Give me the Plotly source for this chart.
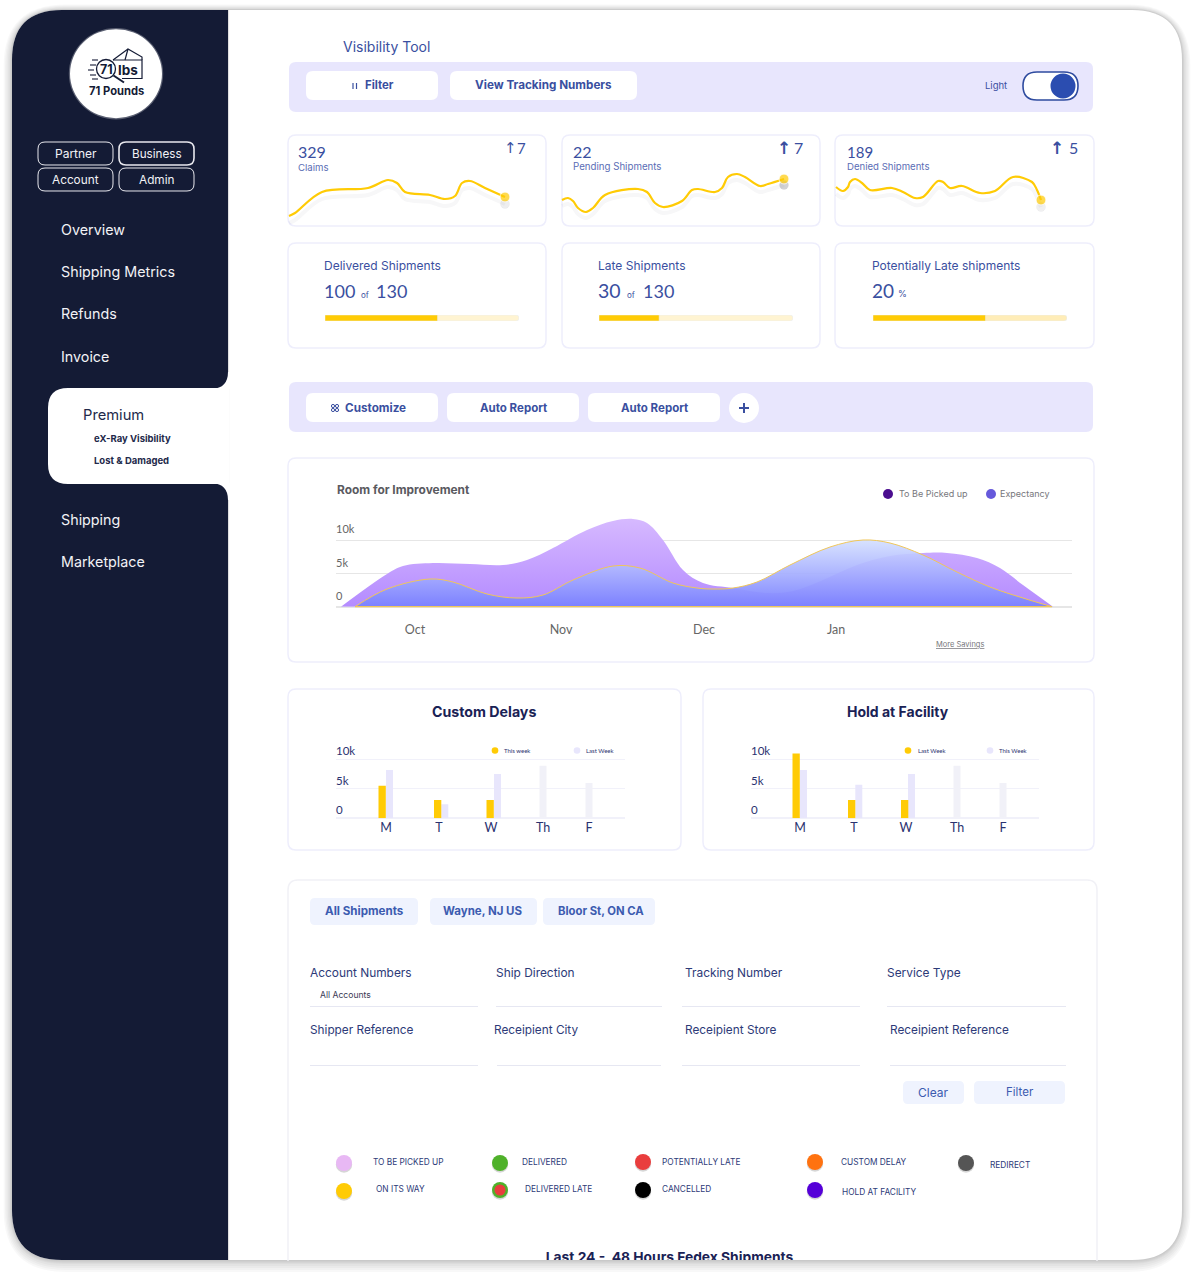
import plotly.graph_objects as go

# ---------- data ----------
MONTHS = ["Oct", "Nov", "Dec", "Jan"]
MONTH_POS = [79, 225, 368, 500]
AREA_TICKS = [0, 5, 10]
AREA_TICK_TEXT = ["0", "5k", "10k"]
PICKUP_X = [5, 51, 67, 97, 134, 167, 191, 217, 251, 277, 297, 311, 327, 347, 367, 397, 431, 457, 487, 521, 554, 587, 611, 641, 664, 687, 717]
PICKUP_Y = [0, 4.9, 6.1, 6.55, 6.4, 6.25, 7.0, 8.8, 11.5, 12.85, 13.15, 12.55, 10, 5.5, 3.55, 2.8, 2.05, 2.35, 4.0, 6.25, 7.6, 8.05, 8.05, 7.3, 5.8, 3.25, 0]
EXPECT_X = [19, 51, 94, 117, 151, 181, 207, 237, 277, 304, 337, 361, 377, 397, 421, 454, 494, 527, 554, 587, 621, 654, 687, 716]
EXPECT_Y = [0, 2.65, 4.15, 3.7, 1.9, 1.3, 1.75, 4.0, 6.1, 5.8, 3.55, 2.8, 2.65, 2.8, 3.7, 6.25, 8.95, 10, 9.55, 7.75, 5.2, 2.95, 1.3, 0]

SPARK1_X = [4, 10, 37, 83, 103, 112, 120, 145, 160, 170, 177, 185, 200, 220]
SPARK1_Y = [14, 17, 38, 42, 50, 47, 38, 35, 31, 34, 47, 49, 42, 33]
SPARK2_X = [7, 13, 18, 23, 31, 38, 50, 83, 92, 100, 108, 127, 137, 143, 160, 167, 173, 182, 190, 205, 213, 229]
SPARK2_Y = [30, 32, 29, 22, 18, 22, 35, 41, 38, 27, 23, 29, 40, 41, 38, 42, 53, 56, 53, 44, 46, 51]
SPARK3_X = [11, 18, 23, 25, 30, 37, 45, 67, 78, 90, 98, 113, 118, 125, 137, 155, 170, 188, 207, 212, 216]
SPARK3_Y = [43, 39, 43, 48, 51, 47, 40, 42, 38, 32, 33, 49, 48, 42, 44, 37, 39, 53, 48, 40, 30]

PROGRESS = [58, 31, 58]

DAYS = ["M", "T", "W", "Th", "F"]
BAR_TICKS = [0, 5, 10]
BAR_TICK_TEXT = ["0", "5k", "10k"]
DELAY_POS = [50, 103, 155, 207, 253]
DELAY_THIS = [5.5, 3.1, 3.1, None, None]
DELAY_LAST = [8.2, 2.4, 7.5, 8.9, 6.0]
HOLD_POS = [49, 103, 155, 206, 252]
HOLD_LAST = [11.0, 3.1, 3.1, None, None]
HOLD_THIS = [8.2, 5.7, 7.5, 8.9, 6.0]

W, H = 1194, 1274
NAVY = "#141B35"
BLUE = "#3A4FA0"
INK = "#2A3270"
YEL = "#FFCB05"
LAV = "#E8E6FC"
PALE = "#F1F1F8"
CARD = "#EEEEFC"

fx = lambda x: x / W
fy = lambda y: 1 - y / H

shapes, notes = [], []

def seg(p):
    out = []
    for s in p:
        c = s[0]
        v = s[1:]
        pts = []
        for i in range(0, len(v), 2):
            pts.append(f"{fx(v[i]):.5f},{fy(v[i+1]):.5f}")
        out.append(c + " " + " ".join(pts))
    return " ".join(out)

def rpath(x0, y0, x1, y1, r=(6, 6, 6, 6)):
    if not isinstance(r, (tuple, list)):
        r = (r, r, r, r)
    tl, tr, br, bl = r
    p = [("M", x0 + tl, y0), ("L", x1 - tr, y0), ("Q", x1, y0, x1, y0 + tr), ("L", x1, y1 - br),
         ("Q", x1, y1, x1 - br, y1), ("L", x0 + bl, y1), ("Q", x0, y1, x0, y1 - bl), ("L", x0, y0 + tl),
         ("Q", x0, y0, x0 + tl, y0)]
    return seg(p) + " Z"

def box(x0, y0, x1, y1, r=6, fill="white", line=None, lw=1, layer="below"):
    shapes.append(dict(type="path", xref="paper", yref="paper", path=rpath(x0, y0, x1, y1, r),
                       fillcolor=fill, line=dict(color=line or "rgba(0,0,0,0)", width=lw if line else 0), layer=layer))

def raw(p, fill="rgba(0,0,0,0)", line=None, lw=1, layer="below", close=False):
    shapes.append(dict(type="path", xref="paper", yref="paper", path=seg(p) + (" Z" if close else ""),
                       fillcolor=fill, line=dict(color=line or "rgba(0,0,0,0)", width=lw if line else 0), layer=layer))

def circ(cx, cy, r, fill, line=None, lw=1, layer="below", ry=None):
    ry = ry or r
    shapes.append(dict(type="circle", xref="paper", yref="paper", x0=fx(cx - r), x1=fx(cx + r),
                       y0=fy(cy + ry), y1=fy(cy - ry), fillcolor=fill,
                       line=dict(color=line or "rgba(0,0,0,0)", width=lw if line else 0), layer=layer))

def hline(x0, x1, y, color, w=1):
    shapes.append(dict(type="line", xref="paper", yref="paper", x0=fx(x0), x1=fx(x1), y0=fy(y), y1=fy(y),
                       line=dict(color=color, width=w), layer="below"))

def seglin(x0, y0, x1, y1, color, w=1):
    shapes.append(dict(type="line", xref="paper", yref="paper", x0=fx(x0), x1=fx(x1), y0=fy(y0), y1=fy(y1),
                       line=dict(color=color, width=w), layer="below"))

def txt(x, y, s, size=11, color=BLUE, anchor="left", font="Inter"):
    notes.append(dict(x=fx(x), y=fy(y - 0.2), xref="paper", yref="paper", text=s, showarrow=False,
                      xanchor=anchor, yanchor="middle", align=anchor, borderpad=0, borderwidth=0,
                      font=dict(size=size, color=color, family=font)))

# ---------- outer card ----------
for i, g in enumerate([12, 10, 8, 6, 4, 3, 2, 1]):
    box(12 - g * 0.7, 10 - g * 0.45, 1182 + g * 0.7, 1260 + g, 50 + g, fill="rgba(0,0,0,0.028)")
box(12, 10, 1182, 1260, 50, fill="white")
seglin(228.6, 10, 228.6, 1260, "rgba(0,0,0,0.14)", 1)
box(12, 10, 228, 1260, (50, 0, 0, 50), fill=NAVY)
# premium tab
box(48, 388, 229, 484, (20, 0, 0, 20), fill="white")
raw([("M", 230, 372), ("L", 230, 389), ("L", 212, 389), ("Q", 228, 388, 228, 372)], fill="white", close=True)
raw([("M", 230, 500), ("L", 230, 483), ("L", 212, 483), ("Q", 228, 484, 228, 500)], fill="white", close=True)

# logo
circ(116, 73.7, 47.2, "rgba(255,255,255,0.3)", ry=45.7)
circ(116, 73.7, 46, "white", ry=44.5)
raw([("M", 113, 60), ("L", 142, 60), ("L", 142, 78.5), ("L", 122, 78.5)], line=NAVY, lw=1.2)
raw([("M", 113, 60), ("L", 128, 49), ("L", 142, 57), ("L", 142, 60)], line=NAVY, lw=1.2)
raw([("M", 128, 49), ("L", 125, 60)], line=NAVY, lw=1.2)
circ(106, 69, 9.5, "white", NAVY, 1.3)
seglin(113.5, 75.5, 124, 82.5, NAVY, 2)
for yy, xa in zip([60, 65, 70, 75, 79], [92, 90, 88, 90, 92]):
    seglin(xa, yy, xa + 6, yy, NAVY, 1.1)
txt(106, 69.5, "<b>71</b>", 12.5, NAVY, "center")
txt(128, 70.5, "<b>lbs</b>", 13.5, NAVY, "center")
txt(116, 91, "<b>71 Pounds</b>", 11.2, NAVY, "center")

for x0, y0, s, lw, fs in [(38, 142, "Partner", 1.0, 12), (119, 142, "Business", 1.6, 11.7), (38, 168, "Account", 1.0, 11.8), (119, 168, "Admin", 1.0, 11.8)]:
    box(x0, y0, x0 + 75, y0 + 23, 7, fill=NAVY, line="#E8E8EE", lw=lw)
    txt(x0 + 37.5, y0 + 12, s, fs, "#F2F2F6", "center")

for s, y in [("Overview", 230), ("Shipping Metrics", 272), ("Refunds", 314), ("Invoice", 357), ("Shipping", 520), ("Marketplace", 562)]:
    txt(61, y, s, 14.3, "#F2F2F6")
txt(83, 415, "Premium", 14.7, "#23294A")
txt(94, 439, "<b>eX-Ray Visibility</b>", 9.5, "#23294A")
txt(94, 461, "<b>Lost &amp; Damaged</b>", 9.5, "#23294A")

# ---------- top toolbar ----------
txt(343, 47, "Visibility Tool", 14, BLUE)
box(289, 62, 1093, 112, 7, fill="#E8E6FD")
box(306, 71, 438, 100, 7)
box(450, 71, 637, 100, 7)
for xx in (353, 356.5):
    seglin(xx, 83, xx, 89, BLUE, 1.2)
txt(379, 85.5, "<b>Filter</b>", 11.4, BLUE, "center")
txt(543.5, 85.5, "<b>View Tracking Numbers</b>", 11.7, BLUE, "center")
txt(996, 85.5, "Light", 9.5, BLUE, "center")
box(1023, 72, 1078, 100, 14, fill="white", line="#2E4B9F", lw=1.6)
circ(1063, 86, 12.5, "#2B4DB0")

# ---------- KPI cards ----------
for x0, x1 in [(288, 546), (562, 820), (835, 1094)]:
    box(x0, 135, x1, 226, 8, line=CARD, lw=1.5)
    box(x0, 243, x1, 348, 8, line=CARD, lw=1.5)

txt(298, 152, "329", 16, BLUE, font="Lato")
txt(298, 167.5, "Claims", 9.6, "#5A6DB5")
txt(573, 152, "22", 16, BLUE, font="Lato")
txt(573, 167, "Pending Shipments", 9.7, "#5A6DB5")
txt(847, 152, "189", 15, BLUE, font="Lato")
txt(847, 166.5, "Denied Shipments", 9.6, "#5A6DB5")
txt(510, 148, "↑", 15, BLUE, "center", "DejaVu Sans")
txt(521, 148, "7", 15, BLUE, "center", "Lato")
txt(784, 148, "<b>↑</b>", 17, BLUE, "center", "DejaVu Sans")
txt(798, 148, "7", 16, BLUE, "center", "Lato")
txt(1057, 148, "<b>↑</b>", 17, BLUE, "center", "DejaVu Sans")
txt(1073, 148, "5", 16, BLUE, "center", "Lato")

txt(324, 265.5, "Delivered Shipments", 12, BLUE)
txt(324, 291, "100", 18, BLUE, font="Lato")
txt(361, 295, "of", 8, BLUE)
txt(376, 291, "130", 18, BLUE, font="Lato")
txt(598, 265.5, "Late Shipments", 12, BLUE)
txt(598, 291, "30", 19.5, BLUE, font="Lato")
txt(627, 295, "of", 8, BLUE)
txt(643, 291, "130", 18, BLUE, font="Lato")
txt(872, 265.5, "Potentially Late shipments", 12, BLUE)
txt(872, 291, "20", 19, BLUE, font="Lato")
txt(898, 294, "%", 9, BLUE)

# ---------- second toolbar ----------
box(289, 382, 1093, 432, 7, fill="#E8E6FD")
for x0, x1, cx, s, fs in [(306, 438, 375, "Customize", 11.7), (447, 579, 513, "Auto Report", 11.5), (588, 720, 654, "Auto Report", 11.5)]:
    box(x0, 393, x1, 422, 7)
    txt(cx, 408, f"<b>{s}</b>", fs, BLUE, "center")
for cx, cy in [(333, 406), (337, 406), (333, 410), (337, 410)]:
    circ(cx, cy, 1.6, "white", BLUE, 1)
circ(744, 408, 15, "white")
seglin(739, 408, 749, 408, BLUE, 2)
seglin(744, 403, 744, 413, BLUE, 2)

# ---------- area card ----------
box(288, 458, 1094, 662, 8, line=CARD, lw=1.5)
txt(337, 490, "<b>Room for Improvement</b>", 11.9, "#5A5A5F")
circ(888, 494, 5, "#4B0E8F")
txt(899, 494, "To Be Picked up", 9, "#77777C")
circ(991, 494, 5, "#6659DB")
txt(1000, 494, "Expectancy", 9, "#77777C")
txt(960, 645, "<u>More Savings</u>", 7.5, "#77777C", "center")

# ---------- bar cards ----------
box(288, 689, 681, 850, 8, line=CARD, lw=1.5)
box(703, 689, 1094, 850, 8, line=CARD, lw=1.5)
txt(484, 711.5, "<b>Custom Delays</b>", 14.2, "#1A2255", "center")
txt(898, 711.5, "<b>Hold at Facility</b>", 14, "#1A2255", "center")
for cx, col, tx, s in [(495, YEL, 504, "This week"), (577, LAV, 586, "Last Week"), (908, YEL, 918, "Last Week"), (990, LAV, 999, "This Week")]:
    circ(cx, 750.5, 3.3, col)
    txt(tx, 751, s, 6, "#2A3270", font="Lato")

# ---------- lower card ----------
raw([("M", 288, 1261), ("L", 288, 890), ("Q", 288, 880, 298, 880), ("L", 1087, 880), ("Q", 1097, 880, 1097, 890), ("L", 1097, 1261)], line="#F1F1F6", lw=1.5)
for x0, x1, cx, s, fs in [(310, 418, 364, "All Shipments", 11.6), (430, 537, 483, "Wayne, NJ US", 11.5), (543, 655, 601, "Bloor St, ON CA", 11.3)]:
    box(x0, 898, x1, 925, 5, fill="#EFF3FE")
    txt(cx, 911.5, f"<b>{s}</b>", fs, "#3C5BB0", "center")
for x, s in [(310, "Account Numbers"), (496, "Ship Direction"), (685, "Tracking Number"), (887, "Service Type")]:
    txt(x, 972.5, s, 11.9, "#2D3A78")
txt(320, 995, "All Accounts", 8.6, "#3A3A55")
for a, b in [(310, 478), (496, 662), (682, 860), (887, 1066)]:
    hline(a, b, 1006.5, "#E6E7F2")
for x, s in [(310, "Shipper Reference"), (494, "Receipient City"), (685, "Receipient Store"), (890, "Receipient Reference")]:
    txt(x, 1030.5, s, 11.8, "#2D3A78")
for a, b in [(310, 478), (497, 661), (682, 860), (890, 1066)]:
    hline(a, b, 1065.5, "#E6E7F2")
box(903, 1081, 964, 1104, 5, fill="#EFF3FE")
box(974, 1081, 1065, 1104, 5, fill="#EFF3FE")
txt(933.5, 1092.5, "Clear", 12, "#3C5BB0", "center")
txt(1019.5, 1092.5, "Filter", 11.5, "#3C5BB0", "center")

STATUS = [(344, 1163, "#E8B8F4", 373, 1162, "TO BE PICKED UP"), (500, 1163, "#4FB12A", 522, 1162, "DELIVERED"),
          (643, 1162, "#E93D3D", 662, 1162, "POTENTIALLY LATE"), (815, 1162, "#FF7210", 841, 1162, "CUSTOM DELAY"),
          (966, 1163, "#555555", 990, 1165, "REDIRECT"), (344, 1191, "#FFCB05", 376, 1189, "ON ITS WAY"),
          (500, 1190, "#4FB12A", 525, 1189, "DELIVERED LATE"), (643, 1190, "#000000", 662, 1189, "CANCELLED"),
          (815, 1190, "#5500D8", 842, 1192, "HOLD AT FACILITY")]
for cx, cy, col, tx, ty, s in STATUS:
    circ(cx, cy + 1.5, 8.2, "rgba(0,0,0,0.16)")
    circ(cx, cy, 8, col)
    txt(tx, ty, s, 8.3, "#2D3A78")
circ(500, 1190, 5.5, "#E93D3D")

# ---------- traces on axes ----------
fig = go.Figure()
layout_axes = {}
n_ax = 0

def axes(x0, x1, y0, y1, xr, yr, **kw):
    """y0 = bottom px, y1 = top px"""
    global n_ax
    n_ax += 1
    sx = "" if n_ax == 1 else str(n_ax)
    xa = dict(domain=[fx(x0), fx(x1)], range=xr, visible=False, anchor=f"y{sx}", fixedrange=True)
    ya = dict(domain=[fy(y0), fy(y1)], range=yr, visible=False, anchor=f"x{sx}", fixedrange=True)
    xa.update(kw.get("xa", {}))
    ya.update(kw.get("ya", {}))
    layout_axes[f"xaxis{sx}"] = xa
    layout_axes[f"yaxis{sx}"] = ya
    return f"x{sx}", f"y{sx}"

# sparklines
for left, sx, sy, sh, dy in [(285, SPARK1_X, SPARK1_Y, 0.12, 7), (555, SPARK2_X, SPARK2_Y, 0.32, 6), (825, SPARK3_X, SPARK3_Y, 0.1, 7)]:
    xa, ya = axes(left, left + 280, 230 + dy, 130 + dy, [0, 280], [0, 100])
    shadow_ms = [0] * (len(sx) - 1) + [9]
    fig.add_trace(go.Scatter(x=sx, y=sy, xaxis=xa, yaxis=ya, mode="lines+markers", cliponaxis=False,
                             line=dict(color="rgba(40,40,70,0.035)", width=4, shape="spline", smoothing=1.0),
                             marker=dict(size=shadow_ms, color=f"rgba(60,60,70,{sh})")))
    xa, ya = axes(left, left + 280, 230, 130, [0, 280], [0, 100])
    ms = [0] * (len(sx) - 1) + [10]
    fig.add_trace(go.Scatter(x=sx, y=sy, xaxis=xa, yaxis=ya, mode="lines+markers", cliponaxis=False,
                             line=dict(color=YEL, width=2.2, shape="spline", smoothing=1.0),
                             marker=dict(size=ms, color=YEL)))

# progress bars
for x0, val, track in [(325, PROGRESS[0], "#FFF4D2"), (599, PROGRESS[1], "#FFF4D2"), (873, PROGRESS[2], "#FFEDB8")]:
    xa, ya = axes(x0, x0 + 194, 321, 315, [0, 100], [-0.5, 0.5])
    fig.add_trace(go.Bar(x=[100], y=[0], orientation="h", width=1, xaxis=xa, yaxis=ya, marker=dict(color=track, cornerradius=3)))
    fig.add_trace(go.Bar(x=[val], y=[0], orientation="h", width=1, xaxis=xa, yaxis=ya, marker=dict(color=YEL, cornerradius=3)))

# area chart
xa, ya = axes(336, 1072, 606.7, 515, [0, 736], [0, 13.75],
              xa=dict(visible=True, tickmode="array", tickvals=MONTH_POS, ticktext=MONTHS, showgrid=False, zeroline=False,
                      showline=False, ticks="", ticklabelstandoff=14, tickfont=dict(family="Lato", size=12.5, color="#666")),
              ya=dict(visible=True, tickmode="array", tickvals=AREA_TICKS, ticktext=AREA_TICK_TEXT, showgrid=True,
                      gridcolor="#E6E6E6", gridwidth=1, zeroline=True, zerolinecolor="#E6E6E6", showline=False, ticks="",
                      ticklabelposition="inside top", ticklabelstandoff=-3, ticklabelshift=-3,
                      tickfont=dict(family="Lato", size=11, color="#666")))
fig.add_trace(go.Scatter(x=PICKUP_X, y=PICKUP_Y, xaxis=xa, yaxis=ya, mode="lines", fill="tozeroy",
                         line=dict(width=0, shape="spline", smoothing=1.0, color="rgba(0,0,0,0)"),
                         fillgradient=dict(type="vertical", colorscale=[[0, "#B48BFF"], [1, "#D6B9FF"]])))
fig.add_trace(go.Scatter(x=EXPECT_X, y=EXPECT_Y, xaxis=xa, yaxis=ya, mode="lines", fill="tozeroy",
                         line=dict(width=1, shape="spline", smoothing=1.0, color="#EFC65A"),
                         fillgradient=dict(type="vertical", colorscale=[[0, "rgba(122,128,255,0.97)"], [1, "rgba(210,222,255,0.88)"]])))
shapes.append(dict(type="line", xref="paper", yref="paper", x0=fx(355), x1=fx(1052), y0=fy(606.7), y1=fy(606.7),
                   line=dict(color="#EFC65A", width=1.2), layer="above"))

def bars(x0, x1, pos, front, back, front_off, back_off):
    bar_ax = axes(x0, x1, 818.3, 738, [0, x1 - x0], [0, 13.61],
                  xa=dict(visible=True, tickmode="array", tickvals=pos, ticktext=DAYS, showgrid=False, zeroline=False,
                          showline=False, ticks="", ticklabelstandoff=0, tickfont=dict(family="Lato", size=12.5, color=INK)),
                  ya=dict(visible=True, tickmode="array", tickvals=BAR_TICKS, ticktext=BAR_TICK_TEXT, showgrid=True,
                          gridcolor="#F1F1FA", zeroline=True, zerolinecolor="#F1F1FA", showline=False, ticks="",
                          ticklabelposition="inside top", ticklabelstandoff=-3,
                          tickfont=dict(family="Lato", size=11.5, color=INK)))
    colors = [LAV, LAV, LAV, PALE, PALE]
    fig.add_trace(go.Bar(x=pos, y=back, xaxis=bar_ax[0], yaxis=bar_ax[1], width=7, offset=back_off, marker=dict(color=colors, line=dict(width=0))))
    fig.add_trace(go.Bar(x=pos, y=front, xaxis=bar_ax[0], yaxis=bar_ax[1], width=7.3, offset=front_off, marker=dict(color=YEL, line=dict(width=0))))

bars(336, 625, DELAY_POS, DELAY_THIS, DELAY_LAST, [-7.5, -5, -4.5, 0, 0], [0, 2.3, 3, -3.5, -3.5])
bars(751, 1039, HOLD_POS, HOLD_LAST, HOLD_THIS, [-7.5, -6, -5, 0, 0], [0, 1.3, 2, -3.5, -3.5])

# clipped heading at the bottom edge
xa, ya = axes(288, 1097, 1260, 1240, [288, 1097], [1260, 1240])
fig.add_trace(go.Scatter(x=[669.5], y=[1251.5], xaxis=xa, yaxis=ya, mode="text", text=["<b>Last 24 -  48 Hours Fedex Shipments</b>"],
                         textposition="bottom center", cliponaxis=True, textfont=dict(family="Inter", size=13.8, color="#1A2255")))

fig.update_layout(width=W, height=H, margin=dict(l=0, r=0, t=0, b=0), paper_bgcolor="white", plot_bgcolor="rgba(0,0,0,0)",
                  showlegend=False, barmode="overlay", shapes=shapes, annotations=notes, font=dict(family="Inter"),
                  hovermode=False, **layout_axes)
fig.write_html("out.html", config=dict(displayModeBar=False),
               post_script="document.body.style.margin='0';document.documentElement.style.overflow='hidden';")
